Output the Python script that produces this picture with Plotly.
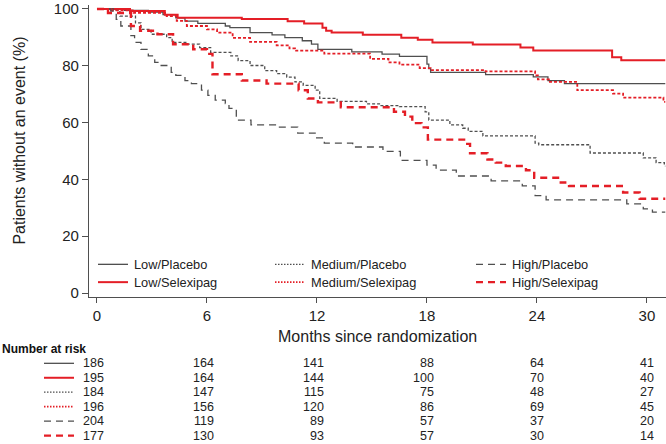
import plotly.graph_objects as go

# ---- data ----
months_low_pbo = [0, 1.5, 2.8, 3.6, 4.3, 4.8, 5.5, 7.0, 7.25, 8.35, 9.55, 10.25, 11.2, 11.7, 12.05,
                  13.9, 15.55, 16.5, 18.0, 18.1, 18.2, 21.2, 23.8, 24.6, 25.5, 31.0]
surv_low_pbo = [100, 99.5, 98.9, 98.0, 96.9, 95.7, 94.9, 94.0, 93.4, 91.7, 90.9, 89.9, 88.8, 87.6, 85.8,
                84.9, 84.1, 83.3, 80.6, 79.0, 77.7, 76.9, 76.1, 74.8, 73.7, 73.7]

months_low_sel = [0, 1.8, 3.7, 4.4, 7.9, 10.4, 11.3, 12.3, 12.5, 12.8, 14.5, 16.6, 17.5, 18.3, 20.5,
                  23.1, 23.8, 28.1, 28.6, 31.0]
surv_low_sel = [100, 99.3, 98.0, 96.9, 96.5, 95.7, 94.9, 93.4, 92.3, 91.7, 90.9, 89.9, 89.2, 88.2, 87.5,
                86.4, 85.4, 83.0, 81.9, 81.9]

months_med_pbo = [0, 0.9, 1.25, 2.1, 2.4, 2.95, 3.8, 4.1, 4.9, 5.6, 6.2, 7.3, 7.7, 8.35, 9.15, 9.8,
                  10.35, 10.8, 11.25, 11.9, 12.15, 13.1, 14.7, 15.45, 16.5, 17.9, 18.1, 19.25, 19.95,
                  20.25, 21.05, 23.9, 24.1, 26.9, 29.8, 30.5, 30.95, 31.0]
surv_med_pbo = [100, 99.5, 97.5, 95.1, 92.8, 91.1, 89.9, 88.2, 87.6, 86.4, 84.7, 83.5, 81.8, 80.1, 78.3, 77.2,
                76.0, 74.3, 73.1, 71.4, 68.5, 67.5, 66.6, 66.0, 65.6, 63.8, 60.9, 59.2, 58.0,
                56.9, 55.3, 52.8, 52.2, 49.3, 47.6, 45.9, 44.7, 44.7]

months_med_sel = [0, 0.6, 2.0, 3.8, 4.35, 4.9, 6.0, 6.55, 7.4, 8.35, 9.8, 10.5, 10.8, 12.4, 14.9,
                  15.9, 16.5, 17.6, 18.2, 21.2, 23.9, 24.05, 24.65, 26.2, 28.15, 28.7, 30.9, 31.0]
surv_med_sel = [100, 99.5, 98.6, 97.5, 95.8, 94.0, 92.8, 91.7, 89.8, 88.4, 87.2, 86.1, 85.3, 84.3, 82.4,
                81.2, 80.4, 79.2, 78.5, 78.0, 76.6, 75.2, 74.3, 71.4, 70.2, 68.8, 67.3, 67.3]

months_high_pbo = [0, 0.75, 1.05, 1.3, 1.85, 2.05, 2.4, 2.8, 3.15, 3.5, 4.05, 4.3, 4.8, 5.15, 5.7, 6.05,
                   6.45, 7.0, 7.2, 7.6, 8.4, 9.8, 10.95, 11.9, 12.4, 13.95, 15.6, 16.55, 18.0, 18.5,
                   19.6, 21.5, 23.2, 23.9, 24.5, 28.9, 29.8, 30.3, 31.0]
surv_high_pbo = [100, 99.2, 96.3, 94.0, 90.6, 88.2, 85.8, 83.5, 81.2, 80.1, 77.7, 76.6, 74.8, 73.7, 71.4, 69.6,
                 67.9, 66.7, 65.0, 60.9, 59.2, 58.4, 56.3, 54.6, 52.8, 51.4, 49.9, 46.7, 45.0, 43.3,
                 41.2, 39.5, 37.7, 34.3, 32.8, 31.4, 29.6, 28.5, 28.5]

months_high_sel = [0, 0.6, 1.85, 2.35, 3.3, 4.15, 5.25, 6.0, 6.3, 7.9, 9.25, 11.0, 11.5, 12.05, 13.3,
                   16.2, 16.8, 17.2, 17.7, 18.05, 20.1, 20.35, 21.3, 21.75, 22.3, 23.4, 23.85, 25.3,
                   25.75, 28.7, 29.6, 31.0]
surv_high_sel = [100, 98.6, 94.0, 92.3, 91.1, 87.6, 85.8, 84.2, 77.0, 74.8, 73.7, 71.4, 68.5, 67.1, 65.4,
                 63.8, 62.1, 59.8, 58.3, 54.0, 52.5, 49.2, 47.0, 45.9, 44.7, 43.2, 40.6, 38.9,
                 37.7, 35.4, 33.2, 33.2]

group_names = ["Low/Placebo", "Low/Selexipag", "Medium/Placebo", "Medium/Selexipag",
               "High/Placebo", "High/Selexipag"]
risk_months = [0, 6, 12, 18, 24, 30]
at_risk = [
    [186, 164, 141, 88, 64, 41],
    [195, 164, 144, 100, 70, 40],
    [184, 147, 115, 75, 48, 27],
    [196, 156, 120, 86, 69, 45],
    [204, 119, 89, 57, 37, 20],
    [177, 130, 93, 57, 30, 14],
]

# ---- styling ----
GRAY = "#4f4f4f"
RED = "#e41e26"
FONT = "Liberation Sans, Arial, sans-serif"
styles = [
    dict(color=GRAY, width=1.3, dash="solid"),
    dict(color=RED, width=2.0, dash="solid"),
    dict(color=GRAY, width=1.3, dash="3px,2px"),
    dict(color=RED, width=1.8, dash="3px,2px"),
    dict(color=GRAY, width=1.3, dash="7px,5px"),
    dict(color=RED, width=2.4, dash="7px,5px"),
]
legend_styles = [
    dict(color=GRAY, width=1.3, dash="solid"),
    dict(color=RED, width=2.0, dash="solid"),
    dict(color=GRAY, width=1.2, dash="1.5px,1.5px"),
    dict(color=RED, width=1.8, dash="1.5px,1.5px"),
    dict(color=GRAY, width=1.3, dash="7px,5px"),
    dict(color=RED, width=2.4, dash="7px,5px"),
]
series = [
    (months_low_pbo, surv_low_pbo),
    (months_low_sel, surv_low_sel),
    (months_med_pbo, surv_med_pbo),
    (months_med_sel, surv_med_sel),
    (months_high_pbo, surv_high_pbo),
    (months_high_sel, surv_high_sel),
]

fig = go.Figure()
for name, (t, s), st in zip(group_names, series, styles):
    fig.add_trace(go.Scatter(x=t, y=s, mode="lines", name=name, line=dict(shape="hv", **st),
                             showlegend=False, hoverinfo="skip"))

L, T, PW, PH = 89, 2, 577, 295


def px_x(p):
    return (p - L) / PW


def px_y(p):
    return (T + PH - p) / PH


annotations = []
shapes = []

# in-plot legend (3 columns x 2 rows)
leg_line_x = [(98, 128), (98, 128), (275, 305), (275, 305), (476, 506), (476, 506)]
leg_row_y = [264, 282, 264, 282, 264, 282]
for i, name in enumerate(group_names):
    x0, x1 = leg_line_x[i]
    y = leg_row_y[i]
    st = legend_styles[i]
    shapes.append(dict(type="line", xref="paper", yref="paper", x0=px_x(x0), x1=px_x(x1),
                       y0=px_y(y), y1=px_y(y),
                       line=dict(color=st["color"], width=st["width"], dash=st["dash"])))
    annotations.append(dict(text=name, xref="paper", yref="paper", x=px_x(x1 + 4), y=px_y(y),
                            xanchor="left", yanchor="middle", showarrow=False,
                            font=dict(family=FONT, size=12.8, color="#222")))

# axis titles
annotations.append(dict(text="Patients without an event (%)", xref="paper", yref="paper",
                        x=px_x(20), y=px_y(139), textangle=-90, showarrow=False,
                        xanchor="center", yanchor="middle",
                        font=dict(family=FONT, size=16, color="#222")))
annotations.append(dict(text="Months since randomization", xref="paper", yref="paper",
                        x=px_x(377), y=px_y(337), showarrow=False,
                        xanchor="center", yanchor="middle",
                        font=dict(family=FONT, size=16, color="#222")))
# number at risk table
annotations.append(dict(text="<b>Number at risk</b>", xref="paper", yref="paper",
                        x=px_x(0), y=px_y(350), xanchor="left", yanchor="middle", showarrow=False,
                        font=dict(family=FONT, size=12, color="#111")))
row_y = [364, 378.6, 393.2, 407.8, 422.4, 437]
for i, row in enumerate(at_risk):
    for m, v in zip(risk_months, row):
        annotations.append(dict(text=str(v), xref="x", yref="paper", x=m, y=px_y(row_y[i]),
                                xanchor="right", yanchor="middle", xshift=9, showarrow=False,
                                font=dict(family=FONT, size=12.5, color="#222")))
    st = legend_styles[i]
    shapes.append(dict(type="line", xref="paper", yref="paper", x0=px_x(44), x1=px_x(74),
                       y0=px_y(row_y[i]), y1=px_y(row_y[i]),
                       line=dict(color=st["color"], width=st["width"], dash=st["dash"])))

fig.update_layout(
    width=666, height=444,
    margin=dict(l=L, r=666 - L - PW, t=T, b=444 - T - PH),
    paper_bgcolor="white", plot_bgcolor="white",
    font=dict(family=FONT, color="#222"),
    showlegend=False,
    annotations=annotations, shapes=shapes,
    xaxis=dict(range=[-0.436, 31.04], tickvals=risk_months, showgrid=False, zeroline=False,
               showline=True, linecolor=GRAY, linewidth=1.3, ticks="outside", ticklen=5,
               tickcolor=GRAY, tickwidth=1.3, ticklabeloverflow="allow",
               tickfont=dict(size=15, family=FONT, color="#222")),
    yaxis=dict(range=[-1.39, 101.39], tickvals=[0, 20, 40, 60, 80, 100], showgrid=False,
               zeroline=False, showline=True, linecolor=GRAY, linewidth=1.3, ticks="outside",
               ticklen=6, tickcolor=GRAY, tickwidth=1.3, ticklabeloverflow="allow",
               tickfont=dict(size=15, family=FONT, color="#222")),
)

fig.write_html("out.html", config={"displayModeBar": False},
               post_script="document.body.style.margin='0px';")
